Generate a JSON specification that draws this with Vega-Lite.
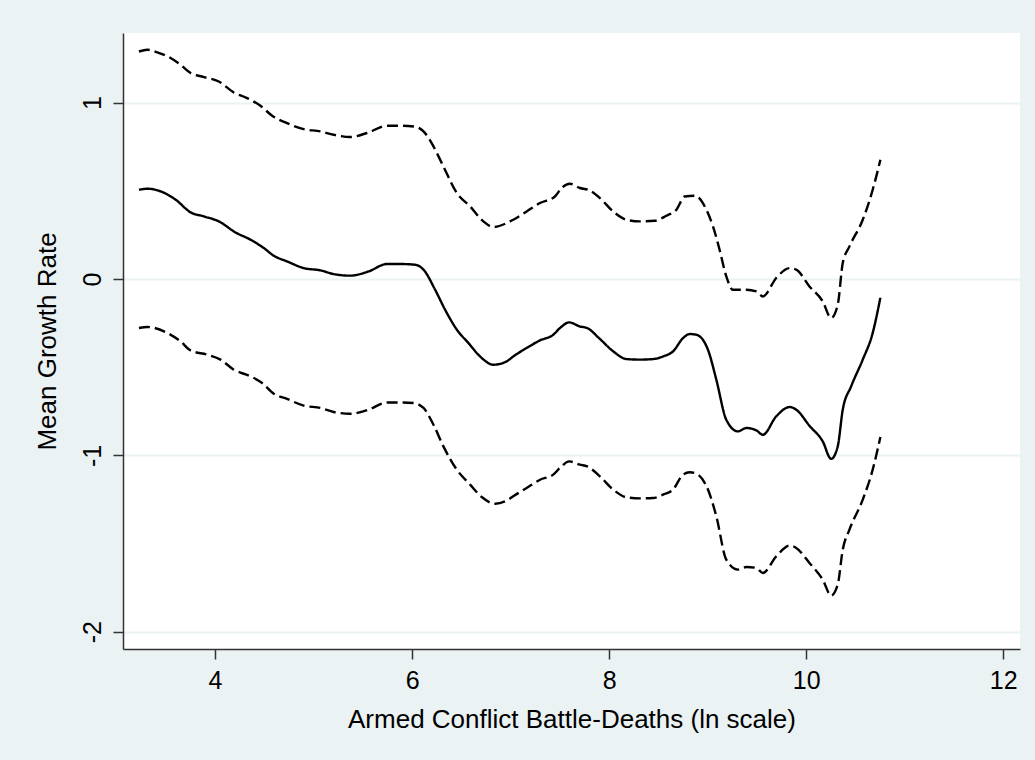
{
  "$schema": "https://vega.github.io/schema/vega-lite/v6.json",
  "width": 897,
  "height": 616,
  "autosize": {"type": "none"},
  "padding": {"left": 123, "top": 33, "right": 15, "bottom": 111},
  "background": "#eaf2f3",
  "config": {
    "view": {"fill": "white", "stroke": null},
    "font": "Liberation Sans"
  },
  "data": {
    "values": [
      {"band": "upper", "x": 3.228, "y": 1.29},
      {"band": "upper", "x": 3.313, "y": 1.3},
      {"band": "upper", "x": 3.414, "y": 1.285},
      {"band": "upper", "x": 3.549, "y": 1.253},
      {"band": "upper", "x": 3.65, "y": 1.215},
      {"band": "upper", "x": 3.752, "y": 1.168},
      {"band": "upper", "x": 3.887, "y": 1.145},
      {"band": "upper", "x": 4.038, "y": 1.12},
      {"band": "upper", "x": 4.19, "y": 1.058},
      {"band": "upper", "x": 4.326, "y": 1.026},
      {"band": "upper", "x": 4.461, "y": 0.982},
      {"band": "upper", "x": 4.58, "y": 0.926},
      {"band": "upper", "x": 4.731, "y": 0.884},
      {"band": "upper", "x": 4.9, "y": 0.85},
      {"band": "upper", "x": 5.069, "y": 0.837},
      {"band": "upper", "x": 5.204, "y": 0.818},
      {"band": "upper", "x": 5.373, "y": 0.805},
      {"band": "upper", "x": 5.542, "y": 0.828},
      {"band": "upper", "x": 5.745, "y": 0.869},
      {"band": "upper", "x": 5.879, "y": 0.869},
      {"band": "upper", "x": 6.014, "y": 0.865},
      {"band": "upper", "x": 6.116, "y": 0.837},
      {"band": "upper", "x": 6.217, "y": 0.752},
      {"band": "upper", "x": 6.318, "y": 0.638},
      {"band": "upper", "x": 6.454, "y": 0.488},
      {"band": "upper", "x": 6.589, "y": 0.412},
      {"band": "upper", "x": 6.723, "y": 0.327},
      {"band": "upper", "x": 6.825, "y": 0.295},
      {"band": "upper", "x": 6.96, "y": 0.317},
      {"band": "upper", "x": 7.027, "y": 0.336},
      {"band": "upper", "x": 7.163, "y": 0.383},
      {"band": "upper", "x": 7.298, "y": 0.431},
      {"band": "upper", "x": 7.45, "y": 0.468},
      {"band": "upper", "x": 7.518, "y": 0.516},
      {"band": "upper", "x": 7.602, "y": 0.54},
      {"band": "upper", "x": 7.703, "y": 0.516},
      {"band": "upper", "x": 7.787, "y": 0.506},
      {"band": "upper", "x": 7.906, "y": 0.459},
      {"band": "upper", "x": 8.041, "y": 0.383},
      {"band": "upper", "x": 8.176, "y": 0.336},
      {"band": "upper", "x": 8.311, "y": 0.327},
      {"band": "upper", "x": 8.463, "y": 0.33},
      {"band": "upper", "x": 8.582, "y": 0.359},
      {"band": "upper", "x": 8.683, "y": 0.393},
      {"band": "upper", "x": 8.767, "y": 0.468},
      {"band": "upper", "x": 8.868, "y": 0.472},
      {"band": "upper", "x": 8.987, "y": 0.393},
      {"band": "upper", "x": 9.054, "y": 0.298},
      {"band": "upper", "x": 9.121, "y": 0.166},
      {"band": "upper", "x": 9.189, "y": 0.015},
      {"band": "upper", "x": 9.256, "y": -0.061},
      {"band": "upper", "x": 9.392, "y": -0.061},
      {"band": "upper", "x": 9.493, "y": -0.07},
      {"band": "upper", "x": 9.56, "y": -0.099},
      {"band": "upper", "x": 9.696, "y": 0.006},
      {"band": "upper", "x": 9.831, "y": 0.062},
      {"band": "upper", "x": 9.899, "y": 0.053},
      {"band": "upper", "x": 10.033, "y": -0.042},
      {"band": "upper", "x": 10.168, "y": -0.127},
      {"band": "upper", "x": 10.253, "y": -0.221},
      {"band": "upper", "x": 10.32, "y": -0.146},
      {"band": "upper", "x": 10.371, "y": 0.091},
      {"band": "upper", "x": 10.439, "y": 0.185},
      {"band": "upper", "x": 10.574, "y": 0.336},
      {"band": "upper", "x": 10.675, "y": 0.506},
      {"band": "upper", "x": 10.753, "y": 0.676},

      {"band": "mean", "x": 3.228, "y": 0.506},
      {"band": "mean", "x": 3.313, "y": 0.512},
      {"band": "mean", "x": 3.448, "y": 0.497},
      {"band": "mean", "x": 3.6, "y": 0.45},
      {"band": "mean", "x": 3.752, "y": 0.378},
      {"band": "mean", "x": 3.887, "y": 0.355},
      {"band": "mean", "x": 4.038, "y": 0.327},
      {"band": "mean", "x": 4.208, "y": 0.264},
      {"band": "mean", "x": 4.36, "y": 0.223},
      {"band": "mean", "x": 4.494, "y": 0.176},
      {"band": "mean", "x": 4.596, "y": 0.132},
      {"band": "mean", "x": 4.731, "y": 0.1},
      {"band": "mean", "x": 4.9, "y": 0.062},
      {"band": "mean", "x": 5.069, "y": 0.049},
      {"band": "mean", "x": 5.204, "y": 0.028},
      {"band": "mean", "x": 5.373, "y": 0.019},
      {"band": "mean", "x": 5.558, "y": 0.043},
      {"band": "mean", "x": 5.745, "y": 0.085},
      {"band": "mean", "x": 5.879, "y": 0.085},
      {"band": "mean", "x": 6.031, "y": 0.081},
      {"band": "mean", "x": 6.116, "y": 0.053},
      {"band": "mean", "x": 6.234, "y": -0.061},
      {"band": "mean", "x": 6.335, "y": -0.174},
      {"band": "mean", "x": 6.454, "y": -0.287},
      {"band": "mean", "x": 6.572, "y": -0.363},
      {"band": "mean", "x": 6.69, "y": -0.439},
      {"band": "mean", "x": 6.825, "y": -0.486},
      {"band": "mean", "x": 6.96, "y": -0.467},
      {"band": "mean", "x": 7.027, "y": -0.439},
      {"band": "mean", "x": 7.163, "y": -0.391},
      {"band": "mean", "x": 7.298, "y": -0.348},
      {"band": "mean", "x": 7.433, "y": -0.316},
      {"band": "mean", "x": 7.501, "y": -0.278},
      {"band": "mean", "x": 7.595, "y": -0.246},
      {"band": "mean", "x": 7.703, "y": -0.269},
      {"band": "mean", "x": 7.777, "y": -0.278},
      {"band": "mean", "x": 7.906, "y": -0.34},
      {"band": "mean", "x": 8.041, "y": -0.41},
      {"band": "mean", "x": 8.176, "y": -0.454},
      {"band": "mean", "x": 8.311, "y": -0.457},
      {"band": "mean", "x": 8.446, "y": -0.454},
      {"band": "mean", "x": 8.547, "y": -0.439},
      {"band": "mean", "x": 8.649, "y": -0.41},
      {"band": "mean", "x": 8.75, "y": -0.335},
      {"band": "mean", "x": 8.818, "y": -0.312},
      {"band": "mean", "x": 8.885, "y": -0.316},
      {"band": "mean", "x": 9.003, "y": -0.401},
      {"band": "mean", "x": 9.088, "y": -0.571},
      {"band": "mean", "x": 9.189, "y": -0.798},
      {"band": "mean", "x": 9.307, "y": -0.864},
      {"band": "mean", "x": 9.392, "y": -0.845},
      {"band": "mean", "x": 9.493, "y": -0.858},
      {"band": "mean", "x": 9.56, "y": -0.883},
      {"band": "mean", "x": 9.696, "y": -0.779},
      {"band": "mean", "x": 9.831, "y": -0.726},
      {"band": "mean", "x": 9.899, "y": -0.741},
      {"band": "mean", "x": 10.033, "y": -0.832},
      {"band": "mean", "x": 10.168, "y": -0.921},
      {"band": "mean", "x": 10.253, "y": -1.02},
      {"band": "mean", "x": 10.32, "y": -0.949},
      {"band": "mean", "x": 10.371, "y": -0.741},
      {"band": "mean", "x": 10.456, "y": -0.609},
      {"band": "mean", "x": 10.574, "y": -0.457},
      {"band": "mean", "x": 10.675, "y": -0.306},
      {"band": "mean", "x": 10.753, "y": -0.105},

      {"band": "lower", "x": 3.228, "y": -0.278},
      {"band": "lower", "x": 3.313, "y": -0.272},
      {"band": "lower", "x": 3.516, "y": -0.306},
      {"band": "lower", "x": 3.65, "y": -0.354},
      {"band": "lower", "x": 3.752, "y": -0.405},
      {"band": "lower", "x": 3.921, "y": -0.429},
      {"band": "lower", "x": 4.056, "y": -0.457},
      {"band": "lower", "x": 4.19, "y": -0.514},
      {"band": "lower", "x": 4.36, "y": -0.552},
      {"band": "lower", "x": 4.478, "y": -0.59},
      {"band": "lower", "x": 4.596, "y": -0.65},
      {"band": "lower", "x": 4.731, "y": -0.68},
      {"band": "lower", "x": 4.9, "y": -0.718},
      {"band": "lower", "x": 5.069, "y": -0.731},
      {"band": "lower", "x": 5.204, "y": -0.754},
      {"band": "lower", "x": 5.373, "y": -0.764},
      {"band": "lower", "x": 5.558, "y": -0.741},
      {"band": "lower", "x": 5.745, "y": -0.7},
      {"band": "lower", "x": 5.879, "y": -0.7},
      {"band": "lower", "x": 6.014, "y": -0.703},
      {"band": "lower", "x": 6.116, "y": -0.731},
      {"band": "lower", "x": 6.217, "y": -0.826},
      {"band": "lower", "x": 6.318, "y": -0.949},
      {"band": "lower", "x": 6.454, "y": -1.081},
      {"band": "lower", "x": 6.589, "y": -1.166},
      {"band": "lower", "x": 6.707, "y": -1.236},
      {"band": "lower", "x": 6.842, "y": -1.274},
      {"band": "lower", "x": 6.977, "y": -1.251},
      {"band": "lower", "x": 7.027, "y": -1.232},
      {"band": "lower", "x": 7.163, "y": -1.185},
      {"band": "lower", "x": 7.298, "y": -1.138},
      {"band": "lower", "x": 7.433, "y": -1.109},
      {"band": "lower", "x": 7.501, "y": -1.071},
      {"band": "lower", "x": 7.595, "y": -1.034},
      {"band": "lower", "x": 7.703, "y": -1.053},
      {"band": "lower", "x": 7.777, "y": -1.062},
      {"band": "lower", "x": 7.906, "y": -1.119},
      {"band": "lower", "x": 8.041, "y": -1.194},
      {"band": "lower", "x": 8.176, "y": -1.238},
      {"band": "lower", "x": 8.311, "y": -1.244},
      {"band": "lower", "x": 8.446, "y": -1.242},
      {"band": "lower", "x": 8.547, "y": -1.223},
      {"band": "lower", "x": 8.649, "y": -1.194},
      {"band": "lower", "x": 8.75, "y": -1.109},
      {"band": "lower", "x": 8.818, "y": -1.096},
      {"band": "lower", "x": 8.885, "y": -1.104},
      {"band": "lower", "x": 9.003, "y": -1.194},
      {"band": "lower", "x": 9.088, "y": -1.346},
      {"band": "lower", "x": 9.189, "y": -1.591},
      {"band": "lower", "x": 9.307, "y": -1.648},
      {"band": "lower", "x": 9.392, "y": -1.633},
      {"band": "lower", "x": 9.493, "y": -1.638},
      {"band": "lower", "x": 9.56, "y": -1.667},
      {"band": "lower", "x": 9.696, "y": -1.573},
      {"band": "lower", "x": 9.831, "y": -1.512},
      {"band": "lower", "x": 9.899, "y": -1.525},
      {"band": "lower", "x": 10.033, "y": -1.61},
      {"band": "lower", "x": 10.168, "y": -1.705},
      {"band": "lower", "x": 10.253, "y": -1.795},
      {"band": "lower", "x": 10.32, "y": -1.733},
      {"band": "lower", "x": 10.371, "y": -1.535},
      {"band": "lower", "x": 10.439, "y": -1.421},
      {"band": "lower", "x": 10.574, "y": -1.251},
      {"band": "lower", "x": 10.675, "y": -1.081},
      {"band": "lower", "x": 10.753, "y": -0.896}
    ]
  },
  "mark": {"type": "line", "color": "black", "strokeWidth": 2.4, "interpolate": "monotone"},
  "encoding": {
    "x": {
      "field": "x",
      "type": "quantitative",
      "scale": {"domain": [3.066, 12.17], "nice": false, "zero": false},
      "axis": {
        "title": "Armed Conflict Battle-Deaths (ln scale)",
        "values": [4, 6, 8, 10, 12],
        "grid": false,
        "domainColor": "#333333",
        "domainWidth": 1.5,
        "tickColor": "#333333",
        "tickWidth": 1.5,
        "tickSize": 10,
        "labelFontSize": 25,
        "labelColor": "black",
        "labelBaseline": "top",
        "labelPadding": 9,
        "labelFlush": false,
        "titleFontSize": 26,
        "titleFontWeight": "normal",
        "titleColor": "black",
        "titlePadding": 13
      }
    },
    "y": {
      "field": "y",
      "type": "quantitative",
      "scale": {"domain": [-2.098, 1.395], "nice": false, "zero": false},
      "axis": {
        "title": "Mean Growth Rate",
        "values": [-2, -1, 0, 1],
        "labelExpr": "toString(datum.value)",
        "grid": true,
        "gridColor": "#eaf2f3",
        "gridWidth": 2,
        "gridOpacity": 1,
        "domainColor": "#333333",
        "domainWidth": 1.5,
        "tickColor": "#333333",
        "tickWidth": 1.5,
        "tickSize": 10,
        "labelFontSize": 25,
        "labelColor": "black",
        "labelAngle": 270,
        "labelAlign": "center",
        "labelBaseline": "alphabetic",
        "labelPadding": 13,
        "labelFlush": false,
        "titleFontSize": 26,
        "titleFontWeight": "normal",
        "titleColor": "black",
        "titlePadding": 20
      }
    },
    "detail": {"field": "band"},
    "strokeDash": {
      "field": "band",
      "type": "nominal",
      "scale": {"domain": ["upper", "mean", "lower"], "range": [[11, 5], [1, 0], [11, 5]]},
      "legend": null
    }
  }
}
